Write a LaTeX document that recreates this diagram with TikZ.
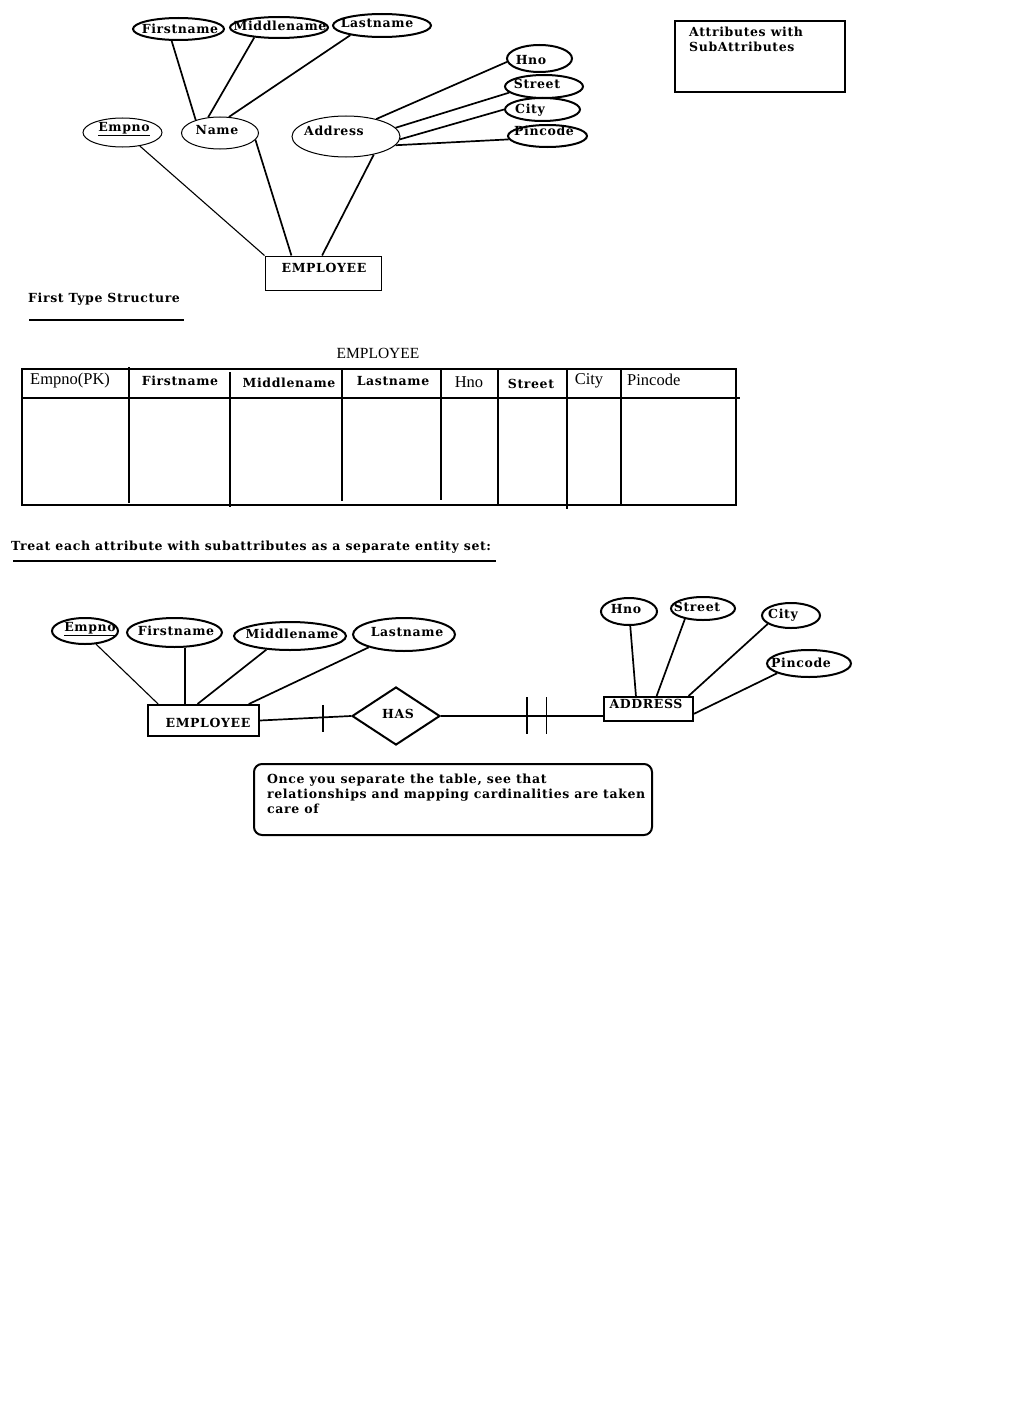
\documentclass[tikz,border=0pt]{standalone}
\usepackage{fontspec}
\setmainfont{DejaVu Serif}[LetterSpace=5]
\newfontfamily\tabfont{Liberation Serif}
\usetikzlibrary{shapes.geometric,calc}
\begin{document}
\begin{tikzpicture}[x=1pt,y=-1pt,
  every node/.style={font=\fontsize{12.5}{15}\selectfont\bfseries, text=black, inner sep=0pt},
  sz/.style 2 args={minimum width=#1pt, minimum height=#2pt},
  attr/.style={ellipse, draw, line width=1pt},
  attrb/.style={ellipse, draw, line width=2pt},
  entity/.style={rectangle, draw, line width=1pt},
  entityb/.style={rectangle, draw, line width=2pt},
  link/.style={line width=1.7pt},
  thin link/.style={line width=1.1pt},
  rule/.style={line width=2pt},
  tabhead/.style={font=\fontsize{16.5}{18}\selectfont\tabfont},
]
\fill[white] (0,0) rectangle (1030,1410);
\path[use as bounding box] (0,0) rectangle (1030,1410);

% ---------- composite attributes ----------
\node[attrb, sz={91}{22}] (fn) at (178.5,29) {};
\node (fn-t) at (180,29) {Firstname};
\node[attrb, sz={98}{21}] (mn) at (279,27.5) {};
\node (mn-t) at (280,26) {Middlename};
\node[attrb, sz={98}{23}] (ln) at (382,25.5) {};
\node (ln-t) at (377,23) {Lastname};
\node[attr, sz={79}{29}] (empno) at (122.5,132.5) {};
\node (empno-t) at (124,129) {\underline{Empno}};
\node[attr, sz={77}{32}] (name) at (220,133) {};
\node (name-t) at (217,130) {Name};
\node[attr, sz={108}{41}] (address) at (346,136.5) {};
\node (address-t) at (334,131) {Address};
\node[attrb, sz={65}{27}] (hno) at (539.5,58.5) {};
\node (hno-t) at (531,60) {Hno};
\node[attrb, sz={78}{23}] (street) at (544,86.5) {};
\node (street-t) at (537,84) {Street};
\node[attrb, sz={75}{23}] (city) at (542.5,109.5) {};
\node (city-t) at (530,110) {City};
\node[attrb, sz={79}{22}] (pin) at (547.5,136) {};
\node (pin-t) at (544,131) {Pincode};
\node[entity, sz={116}{34}] (emp) at (323,273) {};
\node (emp-t) at (324,268) {EMPLOYEE};

\draw[link] (fn.-120) -- (name.152);
\draw[link] (mn.-158) -- (name.127);
\draw[link] (ln.-163) -- (name.61);
\draw[thin link] (empno.-38) -- (emp.north west);
\draw[link] (name.-11) -- (emp.151);
\draw[link] (address.-33) -- (emp.93);
\draw[link] (hno.186) -- (address.30);
\draw[link] (street.190) -- (address.10);
\draw[link] (city.180) -- (address.-3);
\draw[link] (pin.185) -- (address.-10);

\node[entityb, sz={170}{71}] (note1) at (760,56.5) {};
\node[anchor=north west, align=left] (note1-t) at (689,27) {Attributes with\\SubAttributes};

% ---------- first type structure ----------
\node[anchor=west] (first) at (28,299) {First Type Structure};
\draw[rule] (29,320) -- (184,320);

\node[tabhead, font=\fontsize{15.5}{17}\selectfont\tabfont] (tab-title) at (378,353) {EMPLOYEE};
\draw[rule] (22,369) rectangle (736,505);
\draw[rule] (22,398) -- (740,398);
\foreach \x/\a/\b in {129/367/503, 230/372/507, 342/370/501, 441/370/500,
                      498/369/505, 567/369/509, 621/369/505}
  \draw[rule] (\x,\a) -- (\x,\b);
\node[tabhead, anchor=west] (h1) at (30,381) {Empno(PK)};
\node (h2) at (180,381) {Firstname};
\node (h3) at (289,383) {Middlename};
\node (h4) at (393,381) {Lastname};
\node[tabhead] (h5) at (469,382) {Hno};
\node (h6) at (531,384) {Street};
\node[tabhead] (h7) at (589,381) {City};
\node[tabhead, anchor=west] (h8) at (627,380) {Pincode};

\node[anchor=west] (treat) at (11,547) {Treat each attribute with subattributes as a separate entity set:};
\draw[rule] (13,561) -- (496,561);

% ---------- separate entity sets ----------
\node[attrb, sz={66}{26}] (e2) at (85,631) {};
\node (e2-t) at (90,629) {\underline{Empno}};
\node[attrb, sz={95}{29}] (fn2) at (174.5,632.5) {};
\node (fn2-t) at (176,631) {Firstname};
\node[attrb, sz={112}{28}] (mn2) at (290,636) {};
\node (mn2-t) at (292,634) {Middlename};
\node[attrb, sz={102}{33}] (ln2) at (404,634.5) {};
\node (ln2-t) at (407,632) {Lastname};
\node[entityb, sz={111}{31}] (e2emp) at (203.5,720.5) {};
\node (e2emp-t) at (208,723) {EMPLOYEE};

\node[diamond, draw, line width=2pt, aspect=1.52, sz={88}{58}] (has) at (396,716) {};
\node (has-t) at (398,714) {HAS};

\node[entityb, sz={89}{24}] (addr) at (648.5,709) {};
\node (addr-t) at (646,704) {ADDRESS};
\node[attrb, sz={56}{27}] (hno2) at (629,611.5) {};
\node (hno2-t) at (626,609) {Hno};
\node[attrb, sz={64}{23}] (street2) at (703,608.5) {};
\node (street2-t) at (697,607) {Street};
\node[attrb, sz={58}{25}] (city2) at (791,615.5) {};
\node (city2-t) at (783,615) {City};
\node[attrb, sz={84}{27}] (pin2) at (809,663.5) {};
\node (pin2-t) at (801,663) {Pincode};

\draw[thin link] (e2.-50) -- (e2emp.160);
\draw[link] (fn2.-55) -- (fn2.-55 |- e2emp.north);
\draw[link] (mn2.-150) -- (e2emp.110);
\draw[link] (ln2.-160) -- (e2emp.20);
\draw[link] (e2emp.east) -- (has.west);
\draw[link] (has.east) -- (has.east -| addr.west);
\draw[link] (hno2.-85) -- (addr.134);
\draw[link] (street2.-150) -- (addr.58);
\draw[link] (city2.-160) -- (addr.18);
\draw[link] (pin2.-163) -- (addr.-6);

% cardinality ticks
\draw[link] ($(e2emp.east)!0.69!(has.west)$) +(0,-12.5) -- +(0,14.5);
\draw[link] ($(has.east)!0.53!(has.east -| addr.west)$) +(0,-19) -- +(0,18);
\draw[link] ($(has.east)!0.652!(has.east -| addr.west)$) +(0,-19) -- +(0,18);

\node[draw, line width=2pt, rounded corners=8pt, sz={398}{71}] (note2) at (453,799.5) {};
\node[anchor=north west, align=left] (note2-t) at (267,774) {Once you separate the table, see that\\relationships and mapping cardinalities are taken\\care of};
\end{tikzpicture}
\end{document}
